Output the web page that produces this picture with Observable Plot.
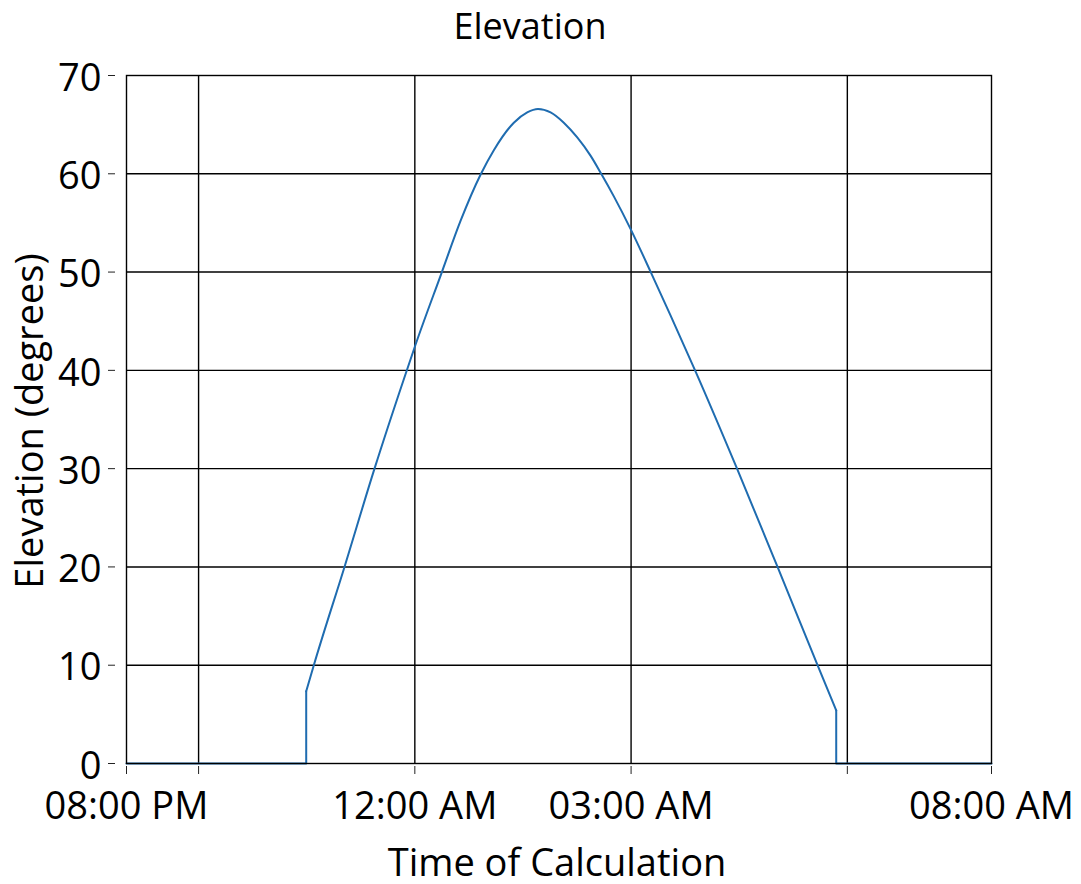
<!DOCTYPE html>
<html>
<head>
<meta charset="utf-8">
<script src="https://cdn.jsdelivr.net/npm/d3@7"></script>
<script src="https://cdn.jsdelivr.net/npm/@observablehq/plot@0.6"></script>
<style>
  html, body { margin: 0; padding: 0; background: #fff; }
  #chart { width: 1081px; height: 884px; }
</style>
</head>
<body>
<div id="chart"></div>
<script>
// ---- data ----
const times = [
  "2024-06-01T20:00:00", "2024-06-01T22:29:35", "2024-06-01T22:29:35",
  "2024-06-01T22:35:55", "2024-06-01T23:01:27", "2024-06-01T23:26:26", "2024-06-01T23:50:50",
  "2024-06-02T00:00:33", "2024-06-02T00:22:13", "2024-06-02T00:38:02", "2024-06-02T00:54:40",
  "2024-06-02T01:05:45", "2024-06-02T01:22:24", "2024-06-02T01:33:33", "2024-06-02T01:42:32",
  "2024-06-02T01:53:00", "2024-06-02T02:04:00", "2024-06-02T02:15:11", "2024-06-02T02:26:14",
  "2024-06-02T02:35:09", "2024-06-02T02:45:39", "2024-06-02T02:59:32", "2024-06-02T03:16:45",
  "2024-06-02T03:32:49", "2024-06-02T03:53:38", "2024-06-02T04:28:12", "2024-06-02T05:01:55",
  "2024-06-02T05:35:12", "2024-06-02T05:50:45", "2024-06-02T05:50:45", "2024-06-02T08:00:00"
];
const elevations = [
  0, 0, 7.35,
  10, 20, 30, 39.1,
  42.6, 49.9, 55.2, 59.9,
  62.4, 65.2, 66.25, 66.6,
  66.25, 65.2, 63.7, 61.85,
  60, 57.7, 54.4, 49.9,
  45.6, 39.9, 30, 20,
  10, 5.4, 0, 0
];
const xTicks = [
  "2024-06-01T20:00:00", "2024-06-01T21:00:00", "2024-06-02T00:00:00",
  "2024-06-02T03:00:00", "2024-06-02T06:00:00", "2024-06-02T08:00:00"
];
const xTickLabels = ["08:00 PM", "", "12:00 AM", "03:00 AM", "", "08:00 AM"];
const yTicks = [0, 10, 20, 30, 40, 50, 60, 70];
const chartTitle = "Elevation";
const xTitle = "Time of Calculation";
const yTitle = "Elevation (degrees)";

// ---- build ----
const parse = s => new Date(s + "Z");
const rows = times.map((t, i) => ({t: parse(t), e: elevations[i]}));
const iRise = elevations.findIndex(v => v > 0);
let iSet = elevations.length - 1;
while (elevations[iSet] === 0) iSet--;
const before = rows.slice(0, iRise + 1);
const arc = rows.slice(iRise, iSet + 1);
const after = rows.slice(iSet);

const xt = xTicks.map(parse);
const labelMap = new Map(xt.map((d, i) => [+d, xTickLabels[i]]));

const lineColor = "#1f6cb0";
const gridStyle = {stroke: "#000", strokeOpacity: 1, strokeWidth: 1.4};
const FONT = "'Open Sans', 'Noto Sans', sans-serif";

const svg = Plot.plot({
  width: 1081,
  height: 884,
  marginLeft: 126,
  marginRight: 90,
  marginTop: 75,
  marginBottom: 121,
  style: {fontFamily: FONT, fontSize: "38px", color: "#000", background: "#fff"},
  x: {type: "utc", domain: [xt[0], xt[xt.length - 1]]},
  y: {domain: [yTicks[0], yTicks[yTicks.length - 1]]},
  marks: [
    Plot.gridX(xt.slice(1, -1), gridStyle),
    Plot.gridY(yTicks.slice(1, -1), gridStyle),
    Plot.line(before, {x: "t", y: "e", stroke: lineColor, strokeWidth: 2}),
    Plot.line(arc, {x: "t", y: "e", stroke: lineColor, strokeWidth: 2, curve: "monotone-x"}),
    Plot.line(after, {x: "t", y: "e", stroke: lineColor, strokeWidth: 2}),
    Plot.frame({stroke: "#000", strokeWidth: 1.4}),
    // y ticks (detached from frame) and labels
    Plot.axisY(yTicks, {tickSize: 7, dx: -11, tickFormat: () => "", label: null, stroke: "#222"}),
    Plot.axisY(yTicks, {tickSize: 0, tickPadding: 25, dy: 3, label: null, fontSize: 38, fill: "#000"}),
    // x ticks and labels
    Plot.axisX(xt, {tickSize: 8, dy: 3, tickFormat: () => "", label: null, stroke: "#222"}),
    Plot.axisX(xt, {tickSize: 0, tickPadding: 29, tickFormat: d => labelMap.get(+d), label: null, fontSize: 38, fill: "#000"})
  ]
});

const s = d3.select(svg);
s.append("text")
  .attr("x", 530).attr("y", 39)
  .attr("text-anchor", "middle")
  .style("font-family", FONT).style("font-size", "36px").attr("fill", "#000")
  .text(chartTitle);
s.append("text")
  .attr("x", 557).attr("y", 876)
  .attr("text-anchor", "middle")
  .style("font-family", FONT).style("font-size", "38px").attr("fill", "#000")
  .text(xTitle);
s.append("text")
  .attr("transform", "translate(43,421) rotate(-90)")
  .attr("text-anchor", "middle")
  .style("font-family", FONT).style("font-size", "38px").attr("fill", "#000")
  .text(yTitle);

document.getElementById("chart").appendChild(svg);
</script>
</body>
</html>
